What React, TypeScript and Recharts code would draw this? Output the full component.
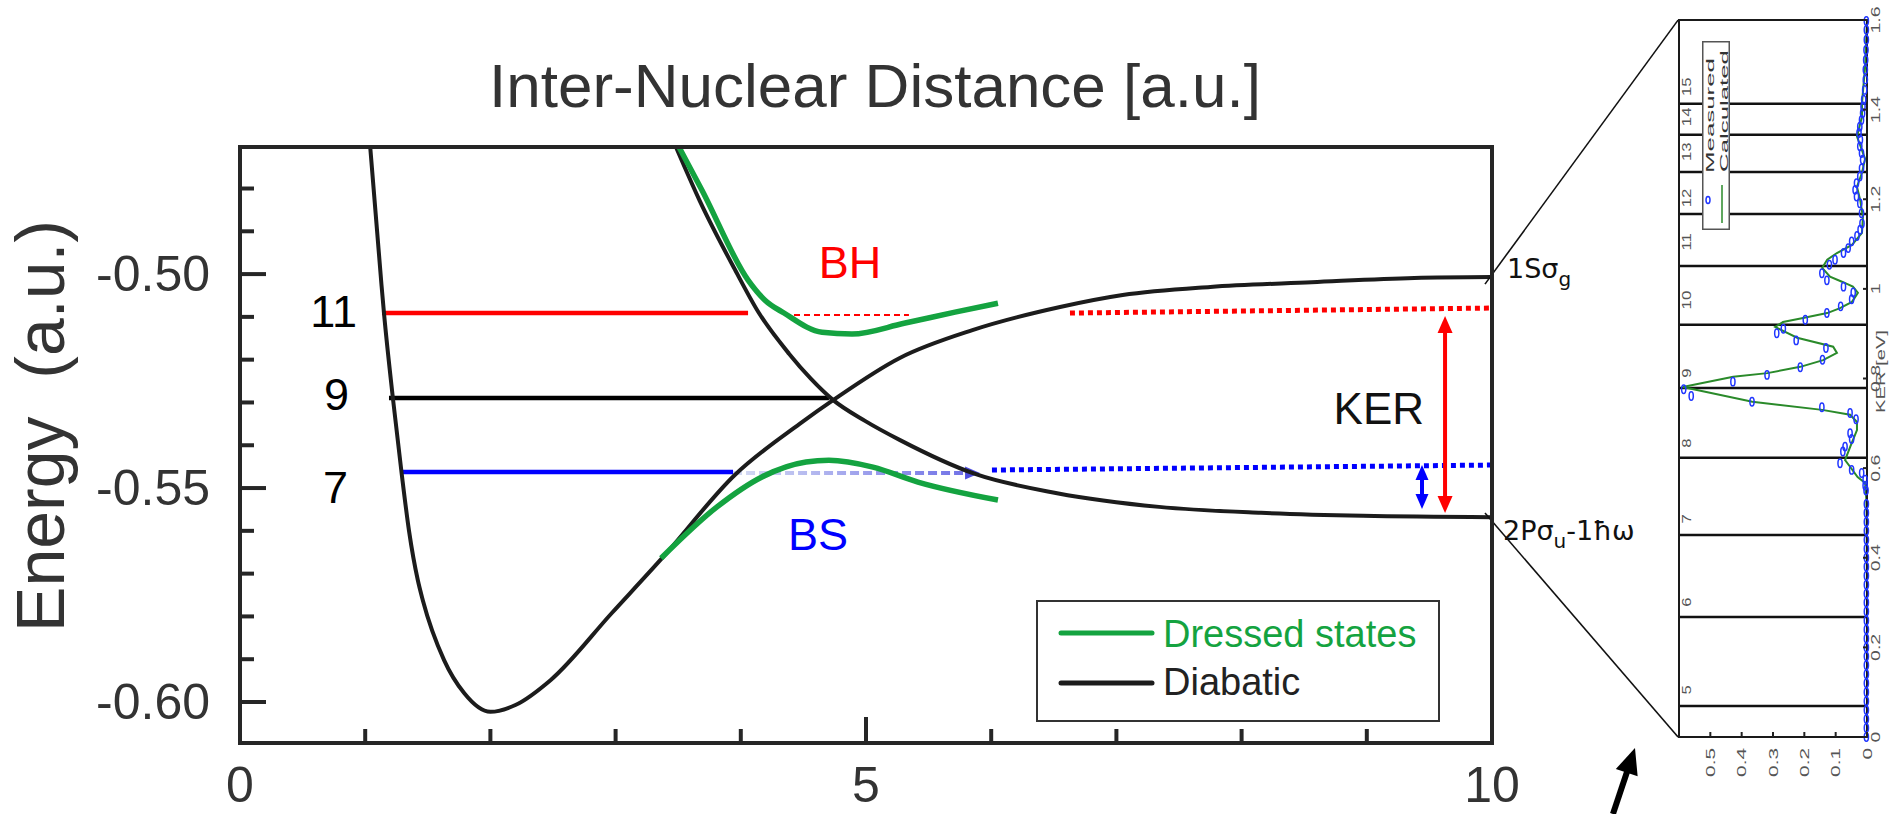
import React from 'react';
import {
  ComposedChart,
  Line,
  Scatter,
  XAxis,
  YAxis,
  ReferenceLine,
  ReferenceDot,
  Legend,
  Label,
} from 'recharts';

/* ================= main panel data (R [a.u.], E [a.u.]) ================= */
// 1S sigma_g diabatic curve
const sigmaGR = [1.04, 1.13, 1.15, 1.22, 1.29, 1.35, 1.42, 1.46, 1.63, 1.79, 2.0, 2.2, 2.48, 2.97, 3.38, 3.95, 4.47, 4.74, 5.27, 5.85, 6.55, 7.05, 7.75, 8.56, 9.38, 10.0];
const sigmaGE = [-0.4703, -0.5025, -0.5091, -0.5287, -0.5463, -0.56, -0.5715, -0.5762, -0.5902, -0.5979, -0.6023, -0.6007, -0.5949, -0.5792, -0.5661, -0.547, -0.535, -0.5294, -0.5196, -0.5131, -0.5077, -0.5049, -0.503, -0.5019, -0.5009, -0.5007];
// 2P sigma_u - 1 hbar omega diabatic curve
const sigmaUR = [3.482, 3.674, 3.954, 4.145, 4.385, 4.561, 4.736, 4.992, 5.272, 5.871, 6.526, 7.34, 8.155, 8.97, 10.0];
const sigmaUE = [-0.4703, -0.483, -0.499, -0.5091, -0.5186, -0.5245, -0.5294, -0.5343, -0.5388, -0.5467, -0.5512, -0.5544, -0.5558, -0.5565, -0.5568];
// dressed (adiabatic) states
const dressedHR = [3.506, 3.69, 4.058, 4.193, 4.345, 4.649, 4.888, 5.304, 5.711, 6.054];
const dressedHE = [-0.4703, -0.4804, -0.5014, -0.5061, -0.5091, -0.5136, -0.514, -0.5115, -0.5089, -0.5068];
const dressedSR = [3.363, 3.81, 4.169, 4.521, 4.704, 5.056, 5.415, 6.054];
const dressedSE = [-0.5664, -0.5544, -0.5474, -0.5439, -0.5435, -0.5451, -0.5486, -0.5528];

// vibrational levels v = 11, 9, 7
const levelNames = ['11', '9', '7'];
const levelE = [-0.50911, -0.52897, -0.54626];
const levelStartR = [1.134, 1.19, 1.294];
const levelEndR = [4.058, 4.704, 3.938];
const levelLabelR = [0.935, 0.871, 0.863];
const levelLabelE = [-0.51238, -0.53178, -0.5535];

// dashed / dotted continuations and arrows
const bhDashR = [4.345, 5.343];
const bhDashE = [-0.50958, -0.50958];
const bsFadeR = [3.938, 5.911];
const bsFadeE = [-0.5465, -0.5465];
const kerRedR = [6.629, 9.984];
const kerRedE = [-0.50911, -0.50794];
const kerBlueR = [6.006, 9.984];
const kerBlueE = [-0.54579, -0.54463];
const kerArrowR = [9.625, 9.625];
const kerArrowE = [-0.50981, -0.55584];
const bsArrowR = [9.441, 9.441];
const bsArrowE = [-0.54463, -0.55491];
const connUpperR = [9.944, 11.486];
const connUpperE = [-0.50234, -0.44065];
const connLowerR = [9.944, 11.486];
const connLowerE = [-0.55584, -0.60818];
const pointerR = [10.966, 11.142];
const pointerE = [-0.62617, -0.61075];

// text annotations
const bhLabel = { text: 'BH', r: 4.872, e: -0.50093 };
const bsLabel = { text: 'BS', r: 4.617, e: -0.56449 };
const kerLabel = { text: 'KER', r: 9.457, e: -0.53505 };
const gLabel = { r: 10.12, e: -0.50093 };
const uLabel = { r: 10.088, e: -0.56215 };

// axes
const rDomain = [0, 10];
const rTicks = [0, 1, 2, 3, 4, 5, 6, 7, 8, 9, 10];
const rTopTicks = [1, 2, 3, 4, 5, 6, 7, 8, 9];
const rLabelTicks = [0, 5, 10];
const eDomain = [-0.60958, -0.47033];
const eTicks = [-0.6, -0.59, -0.58, -0.57, -0.56, -0.55, -0.54, -0.53, -0.52, -0.51, -0.5, -0.49, -0.48];
const eLabelTicks = [-0.6, -0.55, -0.5];

const legendItems = [
  { label: 'Dressed states', kind: 'green' },
  { label: 'Diabatic', kind: 'black' },
];

/* ================= inset data (yield vs KER [eV]) ================= */
const calcKer = [0, 0.3, 0.5, 0.529, 0.567, 0.58, 0.603, 0.618, 0.647, 0.685, 0.703, 0.719, 0.73, 0.748, 0.781, 0.804, 0.812, 0.826, 0.841, 0.857, 0.871, 0.891, 0.915, 0.926, 0.935, 0.946, 0.957, 0.971, 0.991, 1.005, 1.016, 1.027, 1.047, 1.065, 1.08, 1.098, 1.125, 1.161, 1.199, 1.228, 1.259, 1.29, 1.34, 1.384, 1.415, 1.496, 1.6];
const calcYield = [0, 0, 0.001, 0.002, 0.006, 0.03, 0.054, 0.07, 0.054, 0.032, 0.032, 0.054, 0.143, 0.366, 0.588, 0.427, 0.318, 0.213, 0.14, 0.096, 0.108, 0.223, 0.293, 0.268, 0.204, 0.127, 0.086, 0.048, 0.029, 0.045, 0.08, 0.118, 0.143, 0.127, 0.096, 0.048, 0.016, 0.013, 0.022, 0.032, 0.016, 0.006, 0.032, 0.016, 0.016, 0.006, 0];
const measKer = [0, 0.02, 0.04, 0.06, 0.08, 0.1, 0.12, 0.14, 0.16, 0.18, 0.2, 0.22, 0.24, 0.26, 0.28, 0.3, 0.32, 0.34, 0.36, 0.38, 0.4, 0.42, 0.44, 0.46, 0.48, 0.5, 0.52, 0.55, 0.561, 0.574, 0.589, 0.596, 0.611, 0.637, 0.648, 0.665, 0.678, 0.709, 0.723, 0.736, 0.748, 0.761, 0.776, 0.793, 0.808, 0.825, 0.842, 0.868, 0.885, 0.901, 0.911, 0.931, 0.946, 0.961, 0.977, 0.992, 1.005, 1.019, 1.035, 1.054, 1.065, 1.08, 1.091, 1.106, 1.118, 1.132, 1.146, 1.169, 1.191, 1.206, 1.221, 1.236, 1.251, 1.269, 1.288, 1.303, 1.318, 1.333, 1.348, 1.362, 1.377, 1.392, 1.407, 1.422, 1.444, 1.467, 1.489, 1.511, 1.533, 1.556, 1.578, 1.598];
const measYield = [0.002, 0.002, 0.002, 0.002, 0.002, 0.002, 0.002, 0.002, 0.002, 0.002, 0.002, 0.002, 0.002, 0.002, 0.002, 0.002, 0.002, 0.002, 0.002, 0.002, 0.002, 0.002, 0.002, 0.002, 0.002, 0.002, 0.002, 0.003, 0.006, 0.006, 0.017, 0.049, 0.086, 0.077, 0.07, 0.049, 0.054, 0.035, 0.054, 0.144, 0.367, 0.561, 0.585, 0.428, 0.319, 0.213, 0.142, 0.131, 0.226, 0.288, 0.267, 0.197, 0.128, 0.084, 0.049, 0.044, 0.075, 0.128, 0.144, 0.12, 0.102, 0.075, 0.06, 0.049, 0.032, 0.022, 0.016, 0.0175, 0.023, 0.0335, 0.038, 0.0335, 0.023, 0.0175, 0.014, 0.0175, 0.023, 0.021, 0.0255, 0.023, 0.0175, 0.014, 0.0127, 0.0106, 0.0074, 0.0053, 0.0053, 0.0042, 0.0032, 0.0021, 0.0021, 0.0021];
const photonLineKer = [0.069, 0.268, 0.451, 0.623, 0.779, 0.92, 1.051, 1.167, 1.261, 1.344, 1.413];
const photonLabelKer = [0.105, 0.301, 0.487, 0.656, 0.812, 0.975, 1.105, 1.203, 1.306, 1.384, 1.451];
const photonLabels = ['5', '6', '7', '8', '9', '10', '11', '12', '13', '14', '15'];
const photonLabelYield = 0.575;
const yieldDomain = [0, 0.6];
const yieldTicks = [0, 0.1, 0.2, 0.3, 0.4, 0.5];
const kerDomain = [0, 1.6];
const kerTicks = [0, 0.2, 0.4, 0.6, 0.8, 1.0, 1.2, 1.4, 1.6];
const insetLegendItems = ['Measured', 'Calculated'];

/* ================= helpers ================= */
const FONT = '"Liberation Sans", Arial, Helvetica, sans-serif';
const FRAME = '#262626';
const CURVE = '#1c1c1c';
const GREEN = '#14a340';
const RED = '#ff0000';
const BLUE = '#0000ff';
const IN_GREEN = '#2a8a2a';
const IN_BLUE = '#2036ff';
const IN_TEXT = '#555555';

const zip = (xs: number[], ys: number[], kx: string, ky: string) =>
  xs.map((x, i) => ({ [kx]: x, [ky]: ys[i] }));
const seg = (rs: number[], es: number[]) => [
  { x: rs[0], y: es[0] },
  { x: rs[1], y: es[1] },
];
const isIn = (list: number[], v: number) => list.some((a) => Math.abs(a - v) < 1e-6);

const sigmaG = zip(sigmaGR, sigmaGE, 'r', 'e');
const sigmaU = zip(sigmaUR, sigmaUE, 'r', 'e');
const dressedH = zip(dressedHR, dressedHE, 'r', 'e');
const dressedS = zip(dressedSR, dressedSE, 'r', 'e');
const calcPts = zip(calcYield, calcKer, 'yield', 'ker');
const measPts = zip(measYield, measKer, 'yield', 'ker');

function headPoly(x: number, y: number, ang: number, len: number, wid: number, fill: string, key: string) {
  const bx = x - len * Math.cos(ang);
  const by = y - len * Math.sin(ang);
  const nx = (-Math.sin(ang) * wid) / 2;
  const ny = (Math.cos(ang) * wid) / 2;
  return <polygon key={key} points={`${x},${y} ${bx + nx},${by + ny} ${bx - nx},${by - ny}`} fill={fill} />;
}

type ArrowOpts = {
  color: string;
  width: number;
  len: number;
  wid: number;
  both?: boolean;
  dash?: string;
  fade?: [string, string];
  id?: string;
  headColor?: string;
};
const makeArrow = (o: ArrowOpts) => (p: any) => {
  const x1 = Number(p.x1), y1 = Number(p.y1), x2 = Number(p.x2), y2 = Number(p.y2);
  const ang = Math.atan2(y2 - y1, x2 - x1);
  const c = Math.cos(ang), s = Math.sin(ang);
  const sx = o.both ? x1 + o.len * 0.8 * c : x1;
  const sy = o.both ? y1 + o.len * 0.8 * s : y1;
  const ex = x2 - o.len * 0.8 * c;
  const ey = y2 - o.len * 0.8 * s;
  const stroke = o.fade ? `url(#${o.id})` : o.color;
  return (
    <g>
      {o.fade && (
        <defs>
          <linearGradient id={o.id} gradientUnits="userSpaceOnUse" x1={x1} y1={y1} x2={x2} y2={y2}>
            <stop offset="0" stopColor={o.fade[0]} />
            <stop offset="1" stopColor={o.fade[1]} />
          </linearGradient>
        </defs>
      )}
      <line x1={sx} y1={sy} x2={ex} y2={ey} stroke={stroke} strokeWidth={o.width} strokeDasharray={o.dash} />
      {headPoly(x2, y2, ang, o.len, o.wid, o.headColor || o.color, 'h2')}
      {o.both && headPoly(x1, y1, ang + Math.PI, o.len, o.wid, o.headColor || o.color, 'h1')}
    </g>
  );
};

const textShape = (content: React.ReactNode, attrs: any) => (p: any) => (
  <text x={p.cx} y={p.cy} fontFamily={FONT} {...attrs}>
    {content}
  </text>
);

/* ================= main axes ticks ================= */
const tickLen = (major: boolean) => (major ? 26 : 14);

function BottomTick(p: any) {
  const v = p.payload.value;
  const major = isIn(rLabelTicks, v);
  return (
    <g>
      <line x1={p.x} x2={p.x} y1={p.y} y2={p.y - tickLen(v === 5)} stroke={FRAME} strokeWidth={4} />
      {major && (
        <text x={p.x} y={p.y + 59} textAnchor="middle" fontSize={50} fill="#333" fontFamily={FONT}>
          {v}
        </text>
      )}
    </g>
  );
}
function TopTick(p: any) {
  const v = p.payload.value;
  return <line x1={p.x} x2={p.x} y1={p.y} y2={p.y + tickLen(v === 5)} stroke={FRAME} strokeWidth={4} />;
}
function LeftTick(p: any) {
  const v = p.payload.value;
  const major = isIn(eLabelTicks, v);
  return (
    <g>
      <line x1={p.x} x2={p.x + tickLen(major)} y1={p.y} y2={p.y} stroke={FRAME} strokeWidth={4} />
      {major && (
        <text x={p.x - 30} y={p.y} dy="0.34em" textAnchor="end" fontSize={50} fill="#333" fontFamily={FONT}>
          {v.toFixed(2)}
        </text>
      )}
    </g>
  );
}
function RightTick(p: any) {
  const v = p.payload.value;
  const major = isIn(eLabelTicks, v);
  return <line x1={p.x} x2={p.x - (major ? 26 : 13)} y1={p.y} y2={p.y} stroke={FRAME} strokeWidth={4} />;
}

function TitleLabel(lp: any) {
  const vb = lp.viewBox || { x: 240, y: 146, width: 1252, height: 1 };
  return (
    <text x={vb.x + vb.width / 2 + 9} y={vb.y + vb.height - 40} textAnchor="middle" fontSize={62} fill="#333" fontFamily={FONT}>
      Inter-Nuclear Distance [a.u.]
    </text>
  );
}
function EnergyLabel(lp: any) {
  const vb = lp.viewBox || { x: 239, y: 147, width: 1, height: 596 };
  const cx = vb.x + vb.width - 176;
  const cy = vb.y + vb.height / 2 - 19;
  return (
    <text
      transform={`translate(${cx},${cy}) rotate(-90)`}
      textAnchor="middle"
      fontSize={68}
      fill="#333"
      fontFamily={FONT}
      style={{ whiteSpace: 'pre' }}
    >
      {'Energy  (a.u.)'}
    </text>
  );
}

function MainLegend() {
  return (
    <svg width={404} height={122} style={{ display: 'block' }}>
      <rect x={1} y={1} width={402} height={120} fill="#fff" stroke="#333" strokeWidth={2} />
      {legendItems.map((it, i) => {
        const col = it.kind === 'green' ? GREEN : CURVE;
        return (
          <g key={it.label}>
            <line x1={25} x2={116} y1={33 + i * 50} y2={33 + i * 50} stroke={col} strokeWidth={5} strokeLinecap="round" />
            <text x={127} y={47 + i * 48} fontSize={38} fill={it.kind === 'green' ? GREEN : '#222'} fontFamily={FONT}>
              {it.label}
            </text>
          </g>
        );
      })}
    </svg>
  );
}

/* ================= inset ticks ================= */
const fmt = (v: number) => (Math.abs(v) < 1e-9 ? '0' : String(Math.round(v * 10) / 10));
function InBottomTick(p: any) {
  const v = p.payload.value;
  return (
    <g>
      <line x1={p.x} x2={p.x} y1={p.y} y2={p.y - 5} stroke="#222" strokeWidth={2} />
      <text
        transform={`translate(${p.x},${p.y + 11}) rotate(-90) scale(1.6,1)`}
        textAnchor="end"
        dy="0.35em"
        fontSize={13}
        fill={IN_TEXT}
        stroke="none"
        fontFamily={FONT}
      >
        {fmt(v)}
      </text>
    </g>
  );
}
function InTopTick(p: any) {
  return <line x1={p.x} x2={p.x} y1={p.y} y2={p.y + 5} stroke="#222" strokeWidth={2} />;
}
function InRightTick(p: any) {
  const v = p.payload.value;
  return (
    <g>
      <line x1={p.x} x2={p.x - 4} y1={p.y} y2={p.y} stroke="#222" strokeWidth={2} />
      <text
        transform={`translate(${p.x + 13},${p.y}) rotate(-90) scale(1.5,1)`}
        textAnchor="middle"
        fontSize={13}
        fill={IN_TEXT}
        stroke="none"
        fontFamily={FONT}
      >
        {fmt(v)}
      </text>
    </g>
  );
}
function InLeftTick(p: any) {
  return <line x1={p.x} x2={p.x + 4} y1={p.y} y2={p.y} stroke="#222" strokeWidth={2} />;
}
function KerAxisLabel(lp: any) {
  const vb = lp.viewBox || { x: 207, y: 20, width: 1, height: 717 };
  return (
    <text
      transform={`translate(${vb.x + 18},${vb.y + vb.height / 2 - 7}) rotate(-90) scale(1.55,1)`}
      textAnchor="middle"
      fontSize={13}
      fill={IN_TEXT}
      fontFamily={FONT}
    >
      KER [eV]
    </text>
  );
}
function InsetLegend() {
  return (
    <svg width={28} height={189} style={{ display: 'block' }}>
      <rect x={0.75} y={0.75} width={26.5} height={187.5} fill="#fff" stroke="#555" strokeWidth={1.5} />
      <ellipse cx={6} cy={159} rx={2} ry={3.5} fill="none" stroke={IN_BLUE} strokeWidth={1.5} />
      <line x1={20} x2={20} y1={144} y2={182} stroke={IN_GREEN} strokeWidth={1.5} />
      <text transform="translate(12,132) rotate(-90)" fontSize={11} textLength={115} lengthAdjust="spacingAndGlyphs" fill="#333" fontFamily={FONT}>
        {insetLegendItems[0]}
      </text>
      <text transform="translate(26,131) rotate(-90)" fontSize={11} textLength={122} lengthAdjust="spacingAndGlyphs" fill="#333" fontFamily={FONT}>
        {insetLegendItems[1]}
      </text>
    </svg>
  );
}

const frameLine = { stroke: FRAME, strokeWidth: 4, strokeLinecap: 'square' as const };
const inFrame = { stroke: '#1a1a1a', strokeWidth: 2, strokeLinecap: 'square' as const };

export default function App() {
  return (
    <div style={{ position: 'absolute', left: 0, top: 0, width: 1890, height: 814, background: '#fff', fontFamily: FONT }}>
      <ComposedChart width={1890} height={814} margin={{ top: 146, right: 397, bottom: 70, left: 239 }}>
        <XAxis
          type="number"
          dataKey="r"
          domain={rDomain}
          ticks={rTicks}
          interval={0}
          height={1}
          tickSize={0}
          tickMargin={0}
          tickLine={false}
          axisLine={frameLine}
          tick={BottomTick}
        />
        <XAxis
          xAxisId="top"
          orientation="top"
          type="number"
          dataKey="r"
          domain={rDomain}
          ticks={rTopTicks}
          interval={0}
          height={1}
          tickSize={0}
          tickMargin={0}
          tickLine={false}
          axisLine={frameLine}
          tick={TopTick}
          label={<Label content={TitleLabel} />}
        />
        <YAxis
          type="number"
          domain={eDomain}
          ticks={eTicks}
          interval={0}
          width={1}
          tickSize={0}
          tickMargin={0}
          tickLine={false}
          axisLine={frameLine}
          tick={LeftTick}
          label={<Label content={EnergyLabel} />}
        />
        <YAxis
          yAxisId="right"
          orientation="right"
          type="number"
          domain={eDomain}
          ticks={eTicks}
          interval={0}
          width={1}
          tickSize={0}
          tickMargin={0}
          tickLine={false}
          axisLine={frameLine}
          tick={RightTick}
        />

        {/* vibrational level lines */}
        {levelNames.map((n, i) => (
          <ReferenceLine
            key={`lvl${n}`}
            segment={[
              { x: levelStartR[i], y: levelE[i] },
              { x: levelEndR[i], y: levelE[i] },
            ]}
            stroke={i === 0 ? RED : i === 1 ? '#000' : BLUE}
            strokeWidth={4.5}
            ifOverflow="visible"
          />
        ))}
        <ReferenceLine segment={seg(bhDashR, bhDashE)} stroke={RED} strokeWidth={2} strokeDasharray="6 4" ifOverflow="visible" />
        <ReferenceLine
          segment={seg(bsFadeR, bsFadeE)}
          ifOverflow="visible"
          shape={makeArrow({ color: '#8f95e8', width: 4, len: 15, wid: 13, dash: '9 4', fade: ['#d6dcf3', '#6b6be6'], id: 'bsFade', headColor: '#4f4fe0' })}
        />
        <ReferenceLine segment={seg(kerRedR, kerRedE)} stroke={RED} strokeWidth={5} strokeDasharray="5 4" ifOverflow="visible" />
        <ReferenceLine segment={seg(kerBlueR, kerBlueE)} stroke={BLUE} strokeWidth={5} strokeDasharray="5 4" ifOverflow="visible" />

        {/* curves */}
        <Line data={sigmaG} dataKey="e" type="monotone" stroke={CURVE} strokeWidth={4} dot={false} activeDot={false} isAnimationActive={false} />
        <Line data={sigmaU} dataKey="e" type="monotone" stroke={CURVE} strokeWidth={4} dot={false} activeDot={false} isAnimationActive={false} />
        <Line data={dressedH} dataKey="e" type="monotone" stroke={GREEN} strokeWidth={5.5} dot={false} activeDot={false} isAnimationActive={false} />
        <Line data={dressedS} dataKey="e" type="monotone" stroke={GREEN} strokeWidth={5.5} dot={false} activeDot={false} isAnimationActive={false} />

        {/* KER arrows */}
        <ReferenceLine segment={seg(kerArrowR, kerArrowE)} ifOverflow="visible" shape={makeArrow({ color: RED, width: 4, len: 17, wid: 15, both: true })} />
        <ReferenceLine segment={seg(bsArrowR, bsArrowE)} ifOverflow="visible" shape={makeArrow({ color: BLUE, width: 4, len: 15, wid: 13, both: true })} />

        {/* zoom connectors and pointer arrow */}
        <ReferenceLine segment={seg(connUpperR, connUpperE)} stroke="#111" strokeWidth={1.6} ifOverflow="visible" />
        <ReferenceLine segment={seg(connLowerR, connLowerE)} stroke="#111" strokeWidth={1.6} ifOverflow="visible" />
        <ReferenceLine segment={seg(pointerR, pointerE)} ifOverflow="visible" shape={makeArrow({ color: '#000', width: 6, len: 26, wid: 23 })} />

        {/* text annotations */}
        {levelNames.map((n, i) => (
          <ReferenceDot
            key={`lab${n}`}
            x={levelLabelR[i]}
            y={levelLabelE[i]}
            ifOverflow="visible"
            shape={textShape(n, { textAnchor: 'end', fontSize: 45, fill: '#000' })}
          />
        ))}
        <ReferenceDot x={bhLabel.r} y={bhLabel.e} ifOverflow="visible" shape={textShape(bhLabel.text, { textAnchor: 'middle', fontSize: 45, fill: RED })} />
        <ReferenceDot x={bsLabel.r} y={bsLabel.e} ifOverflow="visible" shape={textShape(bsLabel.text, { textAnchor: 'middle', fontSize: 45, fill: BLUE })} />
        <ReferenceDot x={kerLabel.r} y={kerLabel.e} ifOverflow="visible" shape={textShape(kerLabel.text, { textAnchor: 'end', fontSize: 44, fill: '#111' })} />
        <ReferenceDot
          x={gLabel.r}
          y={gLabel.e}
          ifOverflow="visible"
          shape={(p: any) => (
            <text x={p.cx} y={p.cy} fontSize={27} fill="#111" fontFamily='"DejaVu Sans", sans-serif'>
              1Sσ<tspan fontSize={20} dy={8}>g</tspan>
            </text>
          )}
        />
        <ReferenceDot
          x={uLabel.r}
          y={uLabel.e}
          ifOverflow="visible"
          shape={(p: any) => (
            <text x={p.cx} y={p.cy} fontSize={27} fill="#111" fontFamily='"DejaVu Sans", sans-serif'>
              2Pσ<tspan fontSize={20} dy={8}>u</tspan>
              <tspan dy={-8}>-1ħω</tspan>
            </text>
          )}
        />

        <Legend
          layout="horizontal"
          verticalAlign="middle"
          align="center"
          width={404}
          height={122}
          wrapperStyle={{ left: 1036, top: 600, width: 404, height: 122 }}
          content={() => <MainLegend />}
        />
      </ComposedChart>

      {/* ================= inset spectrum ================= */}
      <div style={{ position: 'absolute', left: 1660, top: 0 }}>
        <ComposedChart width={230} height={814} margin={{ top: 19, right: 22, bottom: 76, left: 18 }}>
          <XAxis
            type="number"
            dataKey="yield"
            domain={yieldDomain}
            reversed
            ticks={yieldTicks}
            interval={0}
            height={1}
            tickSize={0}
            tickMargin={0}
            tickLine={false}
            axisLine={inFrame}
            tick={InBottomTick}
          />
          <XAxis
            xAxisId="top"
            orientation="top"
            type="number"
            dataKey="yield"
            domain={yieldDomain}
            reversed
            ticks={yieldTicks}
            interval={0}
            height={1}
            tickSize={0}
            tickMargin={0}
            tickLine={false}
            axisLine={inFrame}
            tick={InTopTick}
          />
          <YAxis
            type="number"
            dataKey="ker"
            orientation="right"
            domain={kerDomain}
            ticks={kerTicks}
            interval={0}
            width={1}
            tickSize={0}
            tickMargin={0}
            tickLine={false}
            axisLine={inFrame}
            tick={InRightTick}
            label={<Label content={KerAxisLabel} />}
          />
          <YAxis
            yAxisId="left"
            orientation="left"
            type="number"
            dataKey="ker"
            domain={kerDomain}
            ticks={kerTicks}
            interval={0}
            width={1}
            tickSize={0}
            tickMargin={0}
            tickLine={false}
            axisLine={inFrame}
            tick={InLeftTick}
          />
          {photonLineKer.map((k, i) => (
            <ReferenceLine key={`pl${i}`} y={k} stroke="#111" strokeWidth={2.5} />
          ))}
          {photonLabels.map((t, i) => (
            <ReferenceDot
              key={`pt${t}`}
              x={photonLabelYield}
              y={photonLabelKer[i]}
              ifOverflow="visible"
              shape={(p: any) => (
                <text
                  transform={`translate(${p.cx},${p.cy}) rotate(-90) scale(1.4,1)`}
                  textAnchor="middle"
                  dy="0.35em"
                  fontSize={12}
                  fill={IN_TEXT}
                  fontFamily={FONT}
                >
                  {t}
                </text>
              )}
            />
          ))}
          <Line data={calcPts} dataKey="ker" type="linear" stroke={IN_GREEN} strokeWidth={2} dot={false} activeDot={false} isAnimationActive={false} />
          <Scatter
            data={measPts}
            dataKey="ker"
            isAnimationActive={false}
            shape={(p: any) => <ellipse cx={p.cx} cy={p.cy} rx={2.1} ry={4.2} fill="none" stroke={IN_BLUE} strokeWidth={1.5} />}
          />
          <Legend
            layout="horizontal"
            verticalAlign="middle"
            align="center"
            width={28}
            height={189}
            wrapperStyle={{ left: 42, top: 41, width: 28, height: 189 }}
            content={() => <InsetLegend />}
          />
        </ComposedChart>
      </div>
    </div>
  );
}
